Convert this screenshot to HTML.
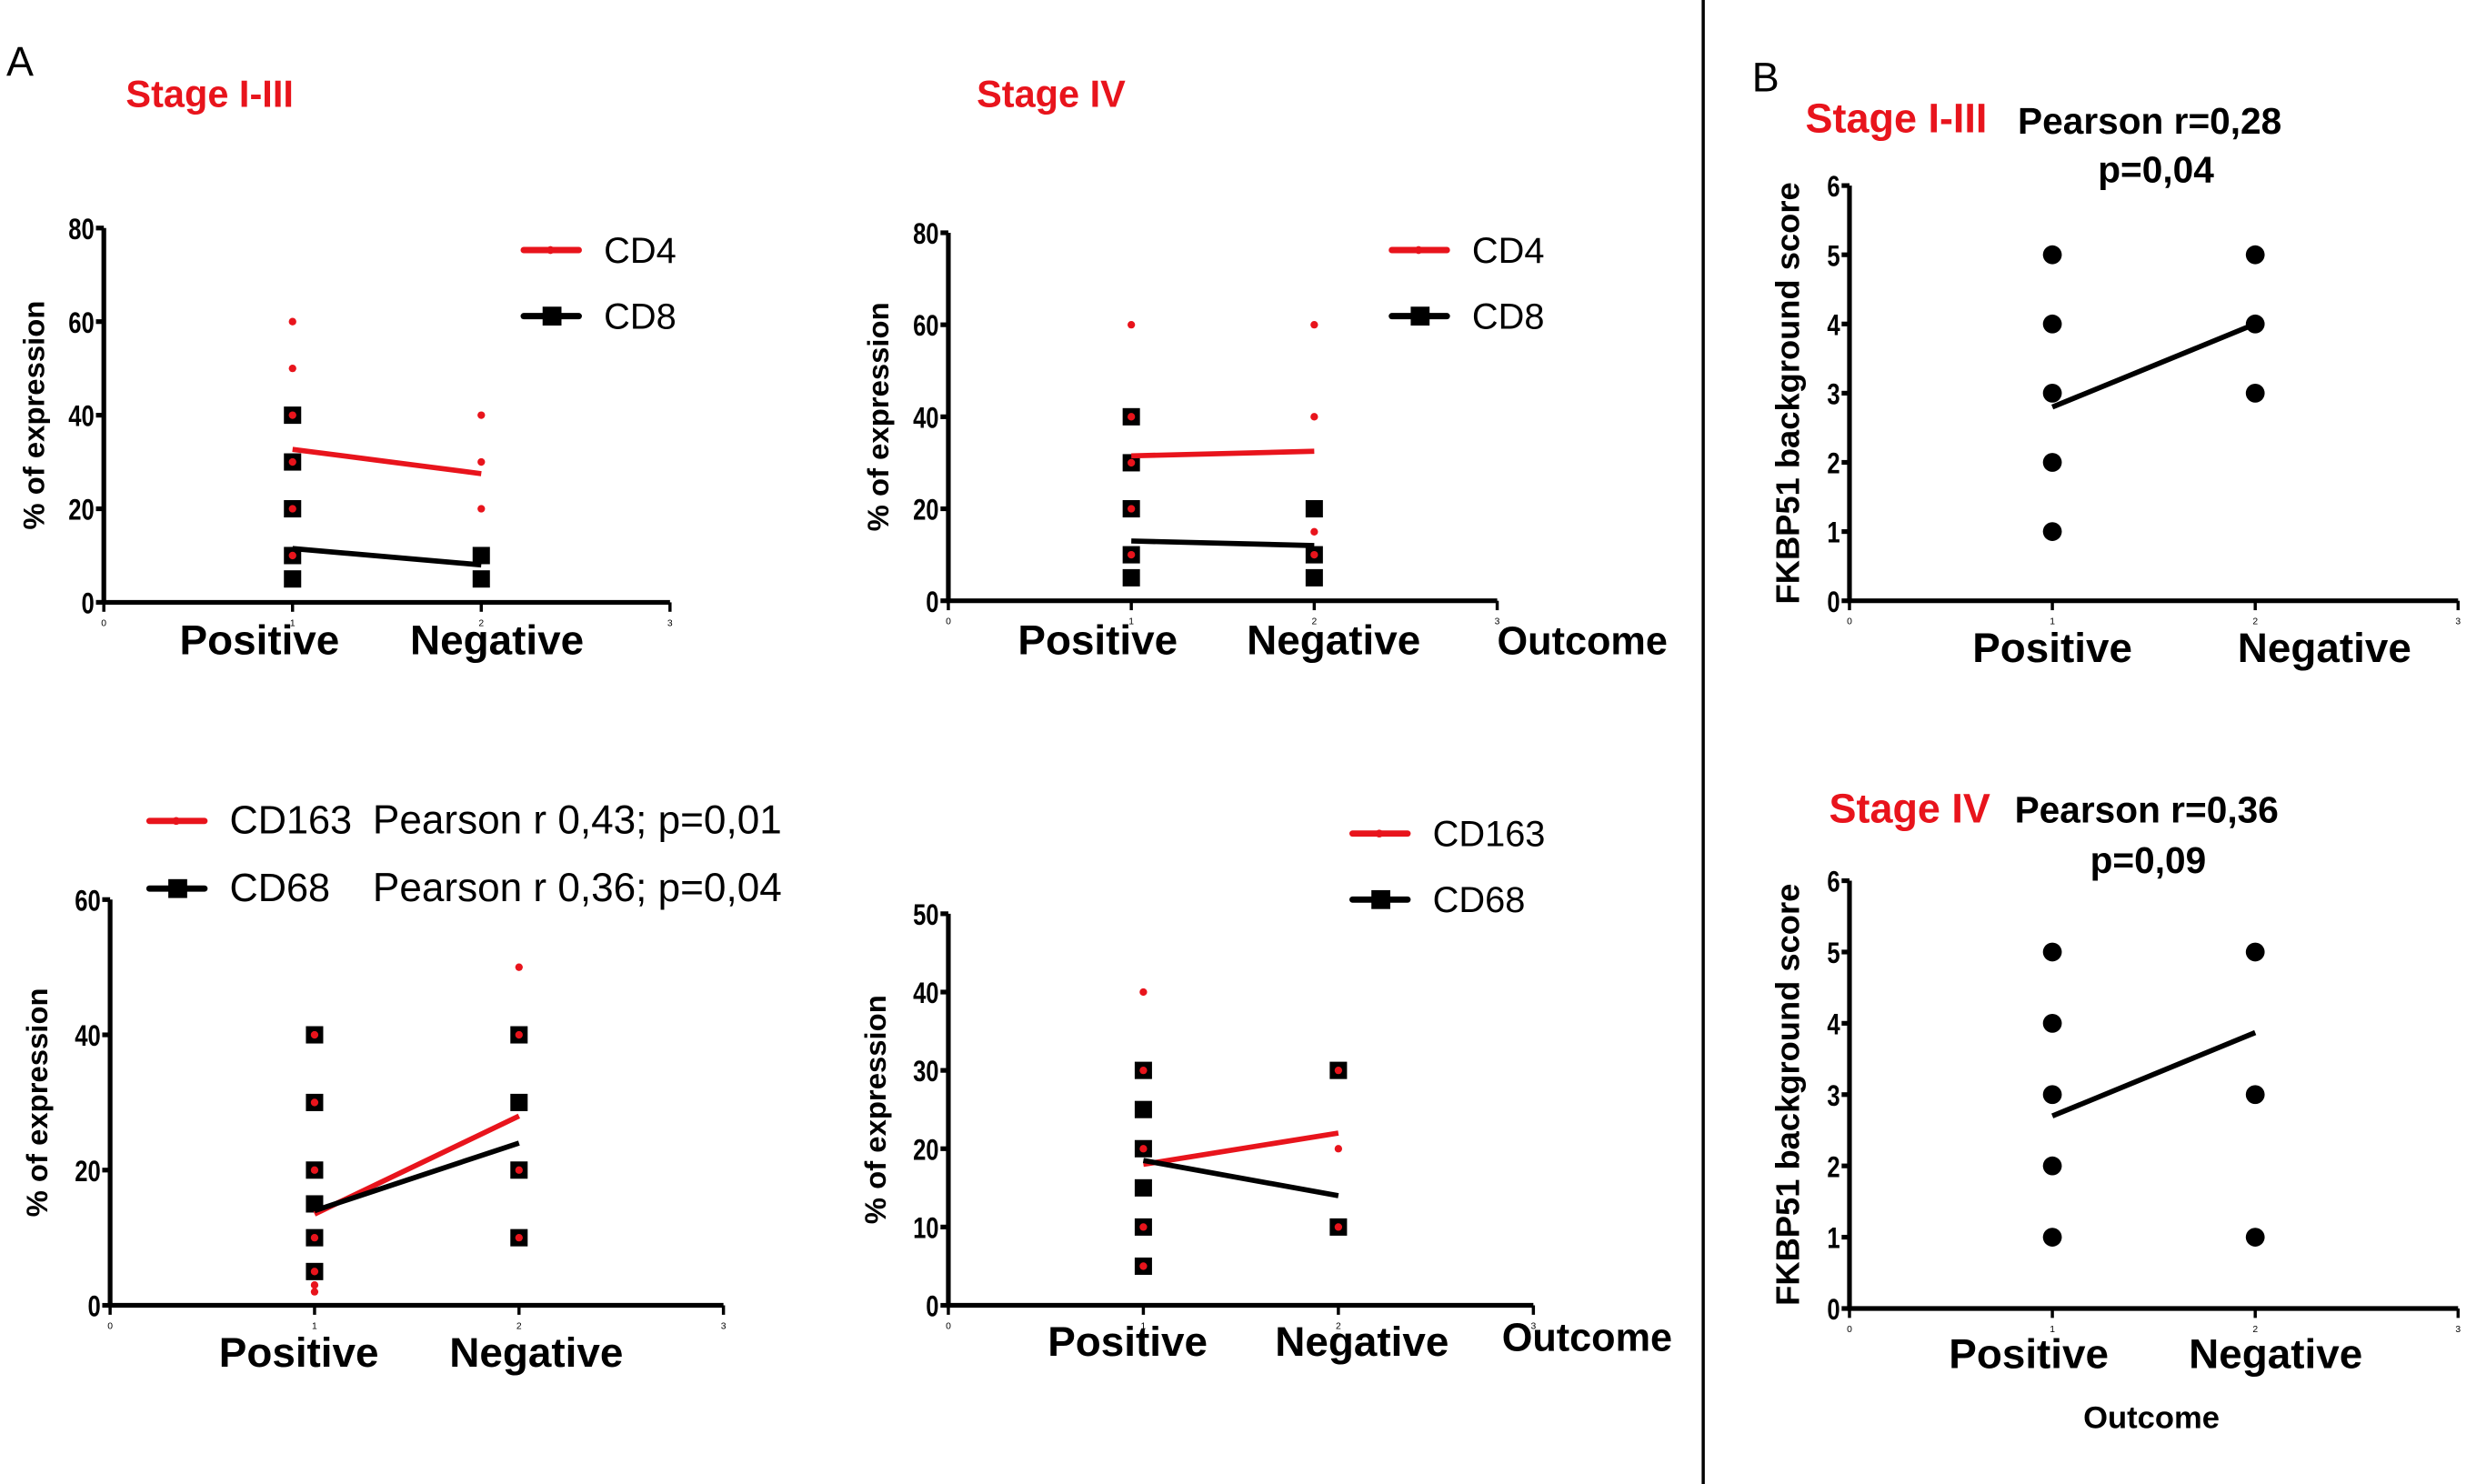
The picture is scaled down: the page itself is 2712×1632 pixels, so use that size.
<!DOCTYPE html>
<html><head><meta charset="utf-8"><style>
html,body{margin:0;padding:0;background:#fff}
svg{display:block}
text{font-family:"Liberation Sans",Arial,sans-serif}
</style></head><body>
<svg id="fig" xmlns="http://www.w3.org/2000/svg" width="2712" height="1632" viewBox="0 0 1568 943.6">
<rect width="1568" height="943.6" fill="#fff"/>
<text x="4" y="48" font-size="26">A</text>
<text x="1114" y="58" font-size="26">B</text>
<text x="80" y="68" font-size="24" font-weight="bold" fill="#e8141c">Stage I-III</text>
<text x="621" y="68" font-size="24" font-weight="bold" fill="#e8141c">Stage IV</text>
<line x1="1083" y1="0" x2="1083" y2="943.6" stroke="#000" stroke-width="2"/>
<text x="1148" y="84" font-size="26" font-weight="bold" fill="#e8141c">Stage I-III</text>
<text x="1283" y="85" font-size="23.5" font-weight="bold">Pearson r=0,28</text>
<text x="1334" y="116" font-size="23.5" font-weight="bold">p=0,04</text>
<text x="1163" y="523" font-size="26" font-weight="bold" fill="#e8141c">Stage IV</text>
<text x="1281" y="523" font-size="23.5" font-weight="bold">Pearson r=0,36</text>
<text x="1329" y="555" font-size="23.5" font-weight="bold">p=0,09</text>
<text x="1368" y="908" font-size="20" font-weight="bold" text-anchor="middle">Outcome</text>
<text x="952" y="416" font-size="25" font-weight="bold">Outcome</text>
<text x="955" y="859" font-size="25" font-weight="bold">Outcome</text>
<g id="plots"></g>
</svg>
<script>
// Panel A1: Stage I-III CD4/CD8
const p1Cd4Pos = [60, 50, 40, 30, 20, 10];
const p1Cd4Neg = [40, 30, 20];
const p1Cd8Pos = [40, 30, 20, 10, 5];
const p1Cd8Neg = [10, 5];
const p1Cd4Line = [32.7, 27.5];
const p1Cd8Line = [11.5, 8];
const p1Ticks = [0, 20, 40, 60, 80];
// Panel A2: Stage IV CD4/CD8
const p2Cd4Pos = [60, 40, 30, 20, 10];
const p2Cd4Neg = [60, 40, 15, 10];
const p2Cd8Pos = [40, 30, 20, 10, 5];
const p2Cd8Neg = [20, 10, 5];
const p2Cd4Line = [31.5, 32.5];
const p2Cd8Line = [13, 12];
const p2Ticks = [0, 20, 40, 60, 80];
// Panel A3: Stage I-III CD163/CD68
const p3Cd163Pos = [40, 30, 20, 10, 5, 3, 2];
const p3Cd163Neg = [50, 40, 20, 10];
const p3Cd68Pos = [40, 30, 20, 15, 10, 5];
const p3Cd68Neg = [40, 30, 20, 10];
const p3Cd163Line = [13.5, 28];
const p3Cd68Line = [14, 24];
const p3Ticks = [0, 20, 40, 60];
// Panel A4: Stage IV CD163/CD68
const p4Cd163Pos = [40, 30, 20, 10, 5];
const p4Cd163Neg = [30, 20, 10];
const p4Cd68Pos = [30, 25, 20, 15, 10, 5];
const p4Cd68Neg = [30, 10];
const p4Cd163Line = [18, 22];
const p4Cd68Line = [18.5, 14];
const p4Ticks = [0, 10, 20, 30, 40, 50];
// Panel B
const b1Pos = [5, 4, 3, 2, 1];
const b1Neg = [5, 4, 3];
const b1Line = [2.8, 4.0];
const b2Pos = [5, 4, 3, 2, 1];
const b2Neg = [5, 3, 1];
const b2Line = [2.7, 3.87];
const bTicks = [0, 1, 2, 3, 4, 5, 6];
const categories = ["Positive", "Negative"];
const xTicks = [0, 1, 2, 3];

const NS = "http://www.w3.org/2000/svg";
const root = document.getElementById("plots");
function mk(tag, attrs, parent) {
  const e = document.createElementNS(NS, tag);
  for (const k in attrs) e.setAttribute(k, attrs[k]);
  (parent || root).appendChild(e);
  return e;
}
function panel(cfg) {
  const g = mk("g", {});
  
  
  const xs = v => cfg.x0 + (cfg.x3 - cfg.x0) * v / 3;
  const ys = v => cfg.yb - (cfg.yb - cfg.yt) * v / cfg.ymax;
  const ax = mk("path", {d: `M${cfg.x0} ${cfg.yt} V${cfg.yb} H${cfg.x3}`, fill: "none", stroke: "#000", "stroke-width": 3}, g);
  
  
  cfg.ticks.forEach(t => {
    const y = ys(t);
    const tk = mk("line", {x1: cfg.x0 - 5, x2: cfg.x0, y1: y, y2: y, stroke: "#000", "stroke-width": 3}, g);
    
    
    const tl = mk("text", {x: cfg.x0 - 6, y: y + 7, "font-size": 19, "font-weight": "bold", "text-anchor": "end", transform: `translate(${(cfg.x0 - 6) * 0.22},0) scale(0.78,1)`}, g);
    tl.textContent = t;
    
    
  });
  xTicks.forEach(t => {
    const x = xs(t);
    const tk = mk("line", {x1: x, x2: x, y1: cfg.yb, y2: cfg.yb + 6, stroke: "#000", "stroke-width": 2}, g);
    
    
    const tl = mk("text", {x: x, y: cfg.yb + 15, "font-size": 6, "text-anchor": "middle"}, g);
    tl.textContent = t;
    
    
  });
  categories.forEach((c, i) => {
    const tl = mk("text", {x: cfg.catX[i], y: cfg.catY, "font-size": 26.5, "font-weight": "bold", "text-anchor": "middle"}, g);
    tl.textContent = c;
    
    
  });
  const yl = mk("text", {transform: `translate(${cfg.ylx},${(cfg.yt + cfg.yb) / 2}) rotate(-90)`, "font-size": cfg.ylSize || 19, "font-weight": "bold", "text-anchor": "middle"}, g);
  yl.textContent = cfg.ylabel;
  
  
  (cfg.sq || []).forEach((arr, i) => arr.forEach(v => {
    const s = mk("rect", {x: xs(i + 1) - 5.5, y: ys(v) - 5.5, width: 11, height: 11, fill: "#000"}, g);
    
    
  }));
  (cfg.bigDots || []).forEach((arr, i) => arr.forEach(v => {
    const s = mk("circle", {cx: xs(i + 1), cy: ys(v), r: 6, fill: "#000"}, g);
    
    
  }));
  (cfg.lines || []).forEach(L => {
    const l = mk("line", {x1: xs(1), y1: ys(L.v[0]), x2: xs(2), y2: ys(L.v[1]), stroke: L.c, "stroke-width": 3.3}, g);
    
    
  });
  (cfg.dots || []).forEach((arr, i) => arr.forEach(v => {
    const s = mk("circle", {cx: xs(i + 1), cy: ys(v), r: 2.4, fill: "#e8141c"}, g);
    
    
  }));
  (cfg.legend || []).forEach(L => {
    const lg = mk("g", {}, g);
    
    
    mk("line", {x1: L.x, x2: L.x + 35, y1: L.y, y2: L.y, stroke: L.c, "stroke-width": 4, "stroke-linecap": "round"}, lg);
    if (L.sq) mk("rect", {x: L.x + 12, y: L.y - 6, width: 12, height: 12, fill: "#000"}, lg);
    else mk("circle", {cx: L.x + 17, cy: L.y, r: 2.5, fill: L.c}, lg);
    const t = mk("text", {x: L.x + 51, y: L.y + 8, "font-size": L.fs || 23}, lg);
    t.textContent = L.t;
    if (L.extra) { const t2 = mk("text", {x: L.ex, y: L.y + 8, "font-size": 25.5}, lg); t2.textContent = L.extra; }
  });
}
panel({name: "plot-cd4-cd8-stage-1-3", x0: 66, x3: 426, yt: 145, yb: 383, ymax: 80, ticks: p1Ticks, catY: 416, catX: [165, 316], ylx: 28, ylabel: "% of expression",
  sq: [p1Cd8Pos, p1Cd8Neg], dots: [p1Cd4Pos, p1Cd4Neg],
  lines: [{v: p1Cd4Line, c: "#e8141c", n: "cd4-line"}, {v: p1Cd8Line, c: "#000", n: "cd8-line"}],
  legend: [{x: 333, y: 159, c: "#e8141c", t: "CD4"}, {x: 333, y: 201, c: "#000", t: "CD8", sq: true}]});
panel({name: "plot-cd4-cd8-stage-4", x0: 603, x3: 952, yt: 148, yb: 382, ymax: 80, ticks: p2Ticks, catY: 416, catX: [698, 848], ylx: 565, ylabel: "% of expression",
  sq: [p2Cd8Pos, p2Cd8Neg], dots: [p2Cd4Pos, p2Cd4Neg],
  lines: [{v: p2Cd4Line, c: "#e8141c", n: "cd4-line"}, {v: p2Cd8Line, c: "#000", n: "cd8-line"}],
  legend: [{x: 885, y: 159, c: "#e8141c", t: "CD4"}, {x: 885, y: 201, c: "#000", t: "CD8", sq: true}]});
panel({name: "plot-cd163-cd68-stage-1-3", x0: 70, x3: 460, yt: 572, yb: 830, ymax: 60, ticks: p3Ticks, catY: 869, catX: [190, 341], ylx: 30, ylabel: "% of expression",
  sq: [p3Cd68Pos, p3Cd68Neg], dots: [p3Cd163Pos, p3Cd163Neg],
  lines: [{v: p3Cd163Line, c: "#e8141c", n: "cd163-line"}, {v: p3Cd68Line, c: "#000", n: "cd68-line"}],
  legend: [{x: 95, y: 522, c: "#e8141c", t: "CD163", fs: 25, extra: "Pearson r 0,43; p=0,01", ex: 237}, {x: 95, y: 565, c: "#000", t: "CD68", fs: 25, sq: true, extra: "Pearson r 0,36; p=0,04", ex: 237}]});
panel({name: "plot-cd163-cd68-stage-4", x0: 603, x3: 975, yt: 581, yb: 830, ymax: 50, ticks: p4Ticks, catY: 862, catX: [717, 866], ylx: 563, ylabel: "% of expression",
  sq: [p4Cd68Pos, p4Cd68Neg], dots: [p4Cd163Pos, p4Cd163Neg],
  lines: [{v: p4Cd163Line, c: "#e8141c", n: "cd163-line"}, {v: p4Cd68Line, c: "#000", n: "cd68-line"}],
  legend: [{x: 860, y: 530, c: "#e8141c", t: "CD163"}, {x: 860, y: 572, c: "#000", t: "CD68", sq: true}]});
panel({name: "plot-fkbp51-stage-1-3", x0: 1176, x3: 1563, yt: 118, yb: 382, ymax: 6, ticks: bTicks, catY: 421, catX: [1305, 1478], ylx: 1144, ylSize: 21, ylabel: "FKBP51 background score",
  bigDots: [b1Pos, b1Neg], lines: [{v: b1Line, c: "#000", n: "fkbp51-trend-line"}]});
panel({name: "plot-fkbp51-stage-4", x0: 1176, x3: 1563, yt: 560, yb: 832, ymax: 6, ticks: bTicks, catY: 870, catX: [1290, 1447], ylx: 1144, ylSize: 21, ylabel: "FKBP51 background score",
  bigDots: [b2Pos, b2Neg], lines: [{v: b2Line, c: "#000", n: "fkbp51-trend-line"}]});
</script>
</body></html>
